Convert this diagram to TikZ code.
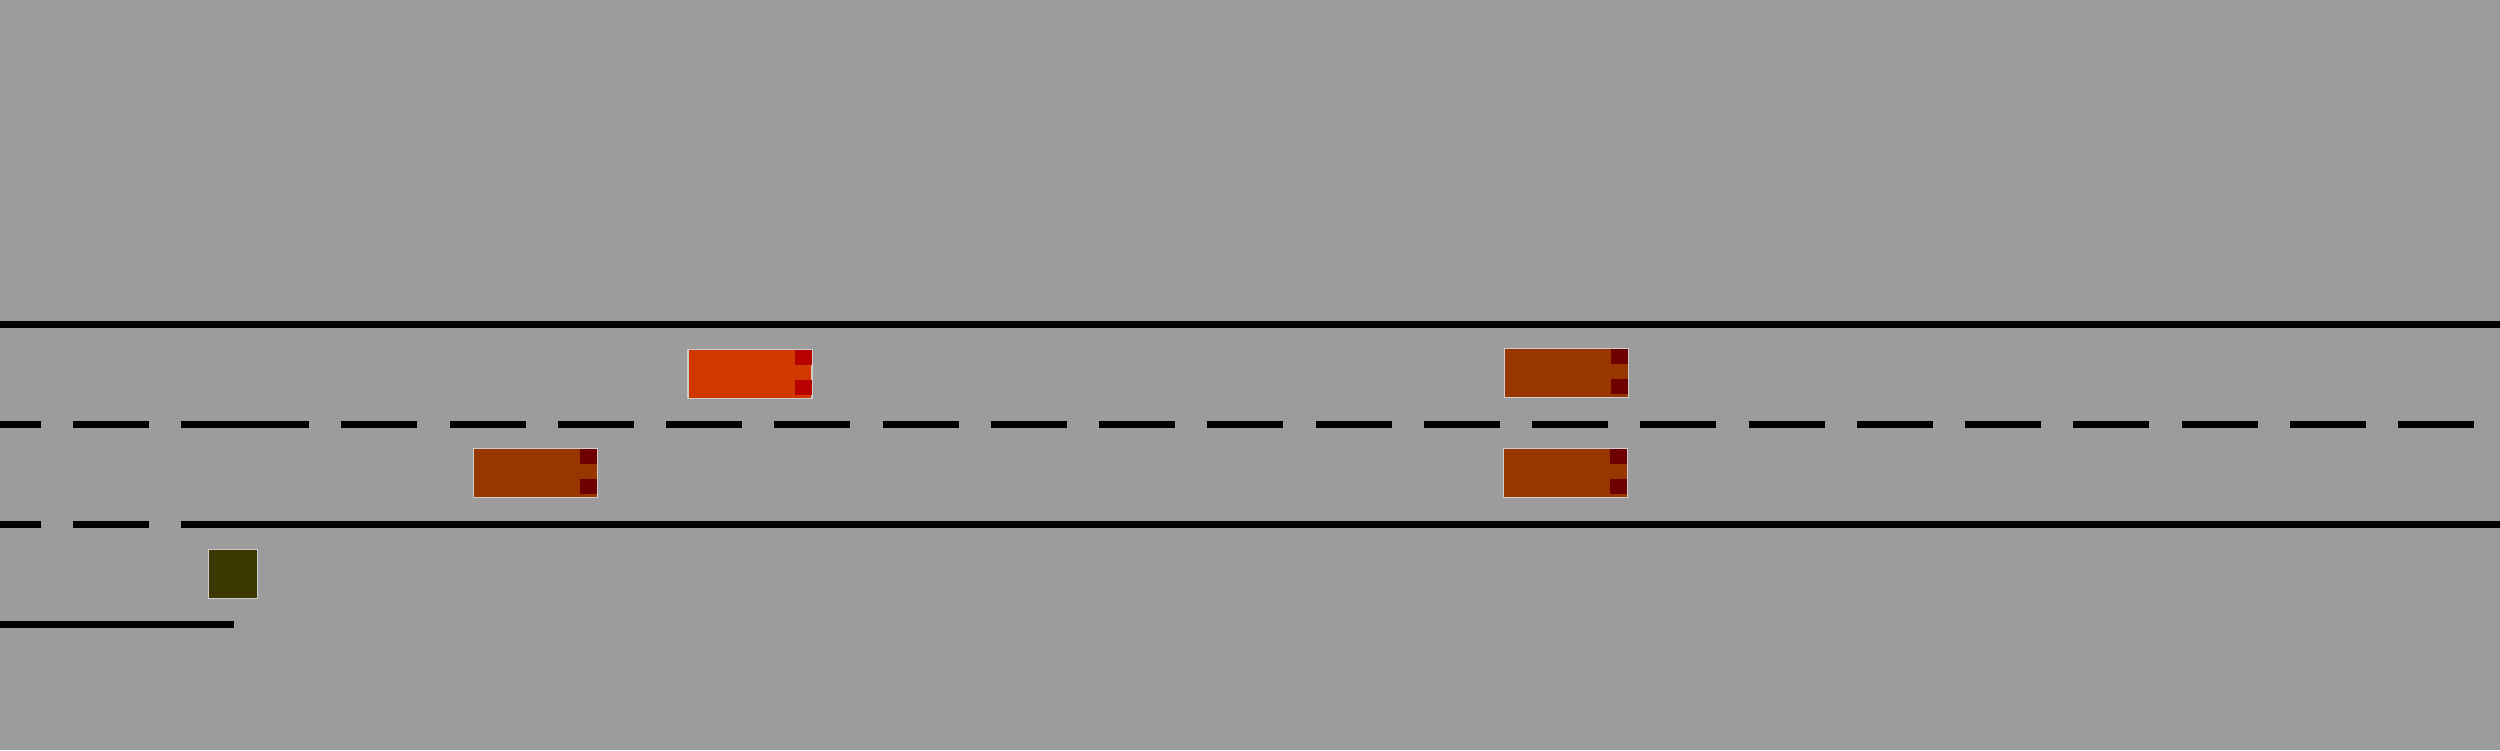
\documentclass[tikz,border=0pt]{standalone}

\definecolor{asphalt}{RGB}{156,156,156}
\definecolor{egobody}{RGB}{208,56,0}
\definecolor{egolamp}{RGB}{184,0,0}
\definecolor{otherbody}{RGB}{152,54,0}
\definecolor{otherlamp}{RGB}{112,0,0}
\definecolor{blockfill}{RGB}{58,56,0}
\definecolor{outline}{RGB}{205,205,205}

\tikzset{
	car/.style={rectangle, draw=outline, line width=0.3pt, minimum width=1.24cm, minimum height=0.49cm, inner sep=0pt},
	marking/.style={line width=0.07cm, black},
	dashmark/.style={marking, dash pattern=on 0.76cm off 0.3225cm},
}

\begin{document}
\begin{tikzpicture}

\useasboundingbox (0, 0) rectangle (25, 7.5);
\fill[asphalt] (0, 0) rectangle (25, 7.5);

% road edges and lane lines
\draw[marking] (0, 4.255) -- (25, 4.255);
\draw[dashmark, dash phase=0.35cm] (0, 3.255) -- (2.57, 3.255);
\draw[dashmark] (2.33, 3.255) -- (25, 3.255);
\draw[dashmark, dash phase=0.35cm] (0, 2.255) -- (1.81, 2.255);
\draw[marking] (1.81, 2.255) -- (25, 2.255);
\draw[marking] (0, 1.255) -- (2.34, 1.255);

% vehicles
\foreach \name/\x/\y/\body/\lamp in {
	ego/7.5/3.76/egobody/egolamp,
	carA/15.665/3.77/otherbody/otherlamp,
	carB/15.655/2.77/otherbody/otherlamp,
	carC/5.355/2.77/otherbody/otherlamp}
{
\node[car, fill=\body] (\name) at (\x, \y) {};
\fill[\lamp] ([xshift=-0.177cm, yshift=-0.014cm]\name.north east) rectangle ++(0.17, -0.15);
\fill[\lamp] ([xshift=-0.177cm, yshift=0.037cm]\name.south east) rectangle ++(0.17, 0.15);
}

\node[car, fill=blockfill, minimum width=0.49cm] (block) at (2.33, 1.76) {};

\end{tikzpicture}
\end{document}
